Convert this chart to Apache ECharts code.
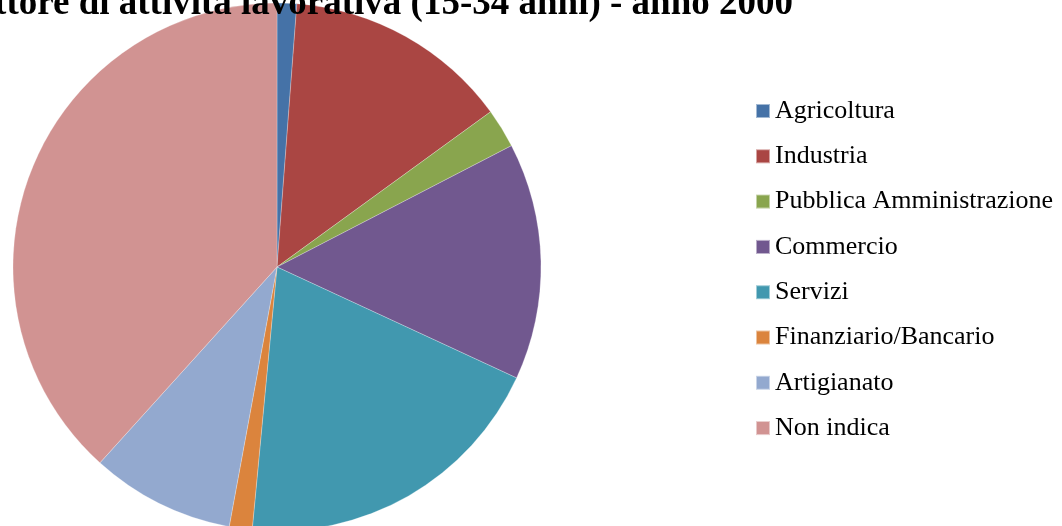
<!DOCTYPE html>
<html>
<head>
<meta charset="utf-8">
<script src="https://cdn.jsdelivr.net/npm/echarts@6/dist/echarts.min.js"></script>
<style>
  html, body { margin: 0; padding: 0; background: #fff; }
  #main { width: 1062px; height: 526px; }
</style>
</head>
<body>
<div id="main"></div>
<script>
// settori e quote percentuali
var categories = ['Agricoltura', 'Industria', 'Pubblica Amministrazione', 'Commercio',
  'Servizi', 'Finanziario/Bancario', 'Artigianato', 'Non indica'];
var values = [1.2, 13.8, 2.4, 14.5, 19.6, 1.4, 8.8, 38.3];
var colors = ['#4572A7', '#AA4643', '#89A54E', '#71588F', '#4198AF', '#DB843D', '#93A9CF', '#D19392'];
var titleText = 'Distribuzione per settore di attività lavorativa (15-34 anni) - anno 2000';

var chart = echarts.init(document.getElementById('main'), null, { renderer: 'canvas' });

var pieData = categories.map(function (name, i) {
  return { name: name, value: values[i], itemStyle: { color: colors[i] } };
});

chart.setOption({
  backgroundColor: '#fff',
  animation: false,
  graphic: [{
    type: 'text',
    z: 100,
    style: {
      text: titleText,
      x: 793,
      y: 4,
      textAlign: 'right',
      textVerticalAlign: 'middle',
      font: 'bold 37px "Liberation Serif", "Times New Roman", serif',
      fill: '#000'
    }
  }],
  legend: {
    orient: 'vertical',
    left: 750,
    top: 93,
    itemWidth: 14,
    itemHeight: 14,
    itemGap: 19.3,
    icon: 'rect',
    data: categories,
    textStyle: {
      fontFamily: '"Liberation Serif", "Times New Roman", serif',
      fontSize: 26,
      lineHeight: 26,
      color: '#000',
      padding: [0, 0, 0, 0]
    }
  },
  series: [{
    type: 'pie',
    center: [277, 267],
    radius: 264,
    startAngle: 90,
    clockwise: true,
    label: { show: false },
    labelLine: { show: false },
    itemStyle: { borderColor: 'rgba(255,255,255,0.5)', borderWidth: 0.5 },
    emphasis: { disabled: true },
    data: pieData
  }]
});
</script>
</body>
</html>
